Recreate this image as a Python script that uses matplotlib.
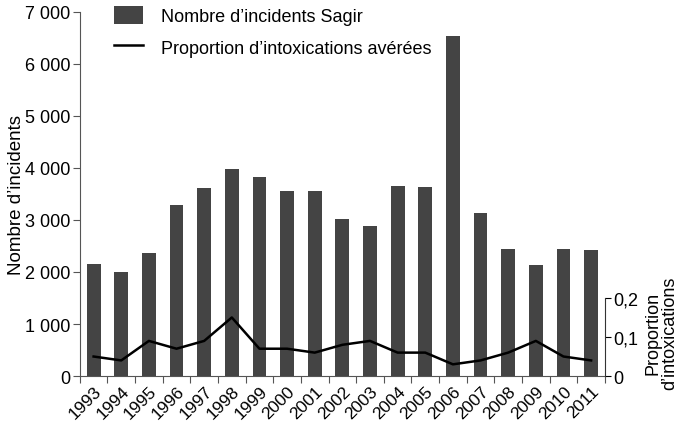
import matplotlib
matplotlib.use("Agg")
import matplotlib.pyplot as plt
import matplotlib.ticker as mticker
import numpy as np

plt.rcParams['font.family'] = ['Liberation Sans', 'DejaVu Sans']

years = [str(y) for y in range(1993, 2012)]
incidents = [2150, 2000, 2370, 3280, 3620, 3980, 3820, 3560, 3550, 3020,
             2880, 3650, 3640, 6530, 3130, 2440, 2130, 2450, 2420]
proportion = [0.05, 0.04, 0.09, 0.07, 0.09, 0.15, 0.07, 0.07, 0.06, 0.08,
              0.09, 0.06, 0.06, 0.03, 0.04, 0.06, 0.09, 0.05, 0.04]

fig = plt.figure(figsize=(6.82, 4.27), dpi=100)
ax = fig.add_axes([0.117, 0.117, 0.77, 0.853])
x = np.arange(len(years))

bars = ax.bar(x, incidents, width=0.5, color='#444444', label="Nombre d\u2019incidents Sagir")
ax.set_xlim(-0.5, len(years) - 0.5)
ax.set_ylim(0, 7000)
ax.set_yticks(np.arange(0, 7001, 1000))
ax.yaxis.set_major_formatter(mticker.FuncFormatter(
    lambda v, p: '{:,}'.format(int(v)).replace(',', ' ')))
ax.set_xticks(np.arange(-0.5, len(years), 1))
ax.set_xticklabels([])
ax.set_xticks(x, minor=True)
ax.set_xticklabels(years, minor=True, rotation=45, ha='right', rotation_mode='anchor')
ax.tick_params(axis='x', which='minor', length=0, labelsize=12.5, pad=5)
ax.tick_params(axis='x', which='major', length=5, direction='out', color='#555555')
ax.tick_params(axis='y', labelsize=13, length=5, pad=2, color='#555555')
ax.spines['top'].set_visible(False)
ax.spines['right'].set_visible(False)
ax.spines['left'].set_color('#555555')
ax.spines['bottom'].set_color('#555555')
ax.set_ylabel("Nombre d\u2019incidents", fontsize=13.5)
ax.yaxis.set_label_coords(-0.105, 0.5)

ax2 = ax.twinx()
line, = ax2.plot(x, proportion, color='black', lw=1.8, label="Proportion d\u2019intoxications av\u00e9r\u00e9es")
ax2.set_ylim(0, 0.933)
ax2.set_yticks([0, 0.1, 0.2])
ax2.yaxis.set_major_formatter(mticker.FuncFormatter(
    lambda v, p: ('%g' % round(v, 2)).replace('.', ',')))
ax2.spines['right'].set_bounds(0, 0.2)
ax2.spines['top'].set_visible(False)
ax2.spines['left'].set_visible(False)
ax2.spines['bottom'].set_visible(False)
ax2.spines['right'].set_color('#333333')
ax2.tick_params(axis='y', labelsize=13, length=4, pad=2)
ax2.set_ylabel("Proportion\nd\u2019intoxications", fontsize=13, linespacing=0.95,
               va='center')
ax2.yaxis.set_label_coords(1.107, 0.121)

ax.legend([bars, line], [bars.get_label(), line.get_label()],
          loc='upper left', bbox_to_anchor=(0.035, 1.06), frameon=False,
          fontsize=13, handlelength=1.6, handleheight=1.1, labelspacing=0.72,
          handletextpad=1.0)

fig.savefig('out.png', dpi=100)
